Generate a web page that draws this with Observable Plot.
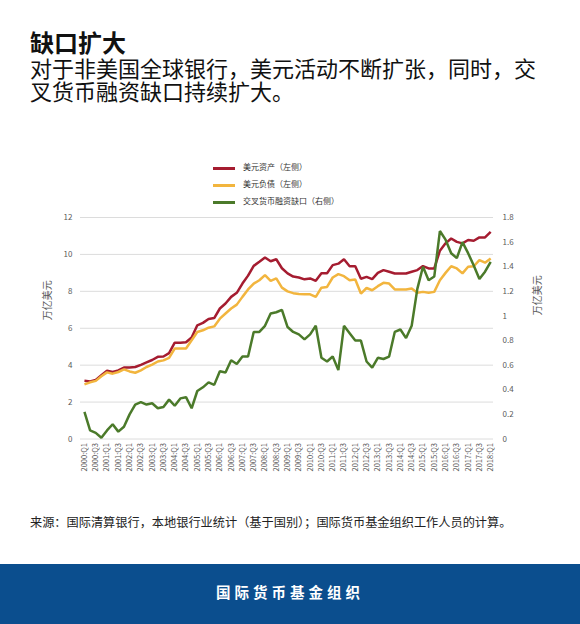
<!DOCTYPE html>
<html><head><meta charset="utf-8">
<script src="https://cdn.jsdelivr.net/npm/d3@7"></script>
<script src="https://cdn.jsdelivr.net/npm/@observablehq/plot@0.6"></script>
<style>
body{margin:0;width:580px;height:624px;position:relative;font-family:"Noto Sans CJK SC","Noto Sans",sans-serif;background:#fff;overflow:hidden;color:#111}
#title{position:absolute;left:30px;top:29px;font-size:24px;font-weight:700;line-height:26px;white-space:nowrap}
#sub{position:absolute;left:30px;top:56px;font-size:22px;line-height:23px;white-space:nowrap}
#legend{position:absolute;left:213px;top:160px;font-size:8px;color:#333}
.row{position:relative;height:17px}
.sw{position:absolute;left:0;top:7px;width:22px;height:2.5px}
.lt{position:absolute;left:30px;top:1px;line-height:12px;white-space:nowrap}
#chart{position:absolute;left:0;top:200px}
#source{position:absolute;left:30px;top:513px;font-size:12.2px;line-height:18px;color:#222;white-space:nowrap}
#footer{position:absolute;left:0;top:564px;width:580px;height:60px;background:#0b4e8e;color:#fff;font-weight:700;font-size:14.5px;letter-spacing:4px;text-align:center;line-height:56px}
</style>
</head><body>
<div id="title">缺口扩大</div>
<div id="sub">对于非美国全球银行，美元活动不断扩张，同时，交<br>叉货币融资缺口持续扩大。</div>
<div id="legend"></div>
<div id="chart"></div>
<div id="source">来源：国际清算银行，本地银行业统计（基于国别）；国际货币基金组织工作人员的计算。</div>
<div id="footer">国际货币基金组织</div>
<script>
// Quarters 2000Q1 .. 2018Q1
const years = d3.range(2000, 2019);
const quarters = [];
for (const y of years) for (const q of [1,2,3,4]) if (!(y === 2018 && q > 1)) quarters.push(`${y}:Q${q}`);

const seriesNames = ["美元资产（左侧）", "美元负债（左侧）", "交叉货币融资缺口（右侧）"];
const seriesColors = ["#a51c30", "#f2b53e", "#4b7a2a"];

// 美元资产 (万亿美元, left axis)
const assets = [3.15,3.12,3.2,3.45,3.7,3.63,3.72,3.87,3.88,3.9,4.02,4.15,4.28,4.45,4.47,4.65,5.22,5.22,5.24,5.5,
  6.16,6.29,6.5,6.55,7.07,7.34,7.7,7.92,8.42,8.85,9.38,9.6,9.83,9.63,9.74,9.25,8.97,8.8,8.75,8.65,
  8.7,8.57,8.98,8.98,9.42,9.5,9.74,9.36,9.36,8.68,8.78,8.66,9.0,9.15,9.06,8.97,8.97,8.97,9.06,9.15,
  9.37,9.24,9.24,10.2,10.6,10.86,10.68,10.6,10.78,10.74,10.92,10.92,11.22];
// 美元负债 (left axis)
const liabilities = [2.96,3.07,3.15,3.4,3.61,3.54,3.63,3.77,3.66,3.59,3.72,3.9,4.03,4.2,4.26,4.4,4.9,4.9,4.9,5.35,
  5.8,5.89,6.03,6.1,6.52,6.8,7.07,7.28,7.7,8.1,8.42,8.6,8.88,8.57,8.7,8.2,8.0,7.9,7.86,7.84,
  7.84,7.7,8.2,8.24,8.75,8.93,8.82,8.6,8.64,7.88,8.18,8.06,8.28,8.46,8.42,8.1,8.1,8.1,8.15,7.92,
  7.97,7.92,7.97,8.6,9.0,9.36,9.24,8.97,9.33,9.36,9.69,9.55,9.78];
// 交叉货币融资缺口 (right axis)
const gap = [0.22,0.07,0.05,0.01,0.07,0.12,0.06,0.1,0.2,0.28,0.3,0.28,0.29,0.25,0.26,0.32,0.27,0.33,0.34,0.25,
  0.39,0.42,0.46,0.44,0.55,0.54,0.64,0.61,0.67,0.67,0.87,0.87,0.92,1.02,1.03,1.05,0.91,0.87,0.85,0.81,
  0.85,0.92,0.66,0.63,0.67,0.56,0.92,0.86,0.8,0.8,0.63,0.58,0.66,0.65,0.67,0.87,0.89,0.82,0.92,1.22,
  1.4,1.29,1.32,1.69,1.62,1.51,1.47,1.6,1.51,1.41,1.3,1.36,1.44];

const leftTicks = [0,2,4,6,8,10,12];
const rightTicks = [0,0.2,0.4,0.6,0.8,1,1.2,1.4,1.6,1.8];
const axisTitle = "万亿美元";
const ratio = 12 / 1.8;

const legend = document.getElementById("legend");
seriesNames.forEach((n, k) => {
  const r = document.createElement("div"); r.className = "row";
  r.innerHTML = `<div class="sw" style="background:${seriesColors[k]}"></div><div class="lt">${n}</div>`;
  legend.appendChild(r);
});

const idx = quarters.map((q, i) => i);
const rows = [];
idx.forEach(i => {
  rows.push({i, v: assets[i], s: seriesNames[0]});
  rows.push({i, v: liabilities[i], s: seriesNames[1]});
  rows.push({i, v: gap[i] * ratio, s: seriesNames[2]});
});

const grey = "#595959";
const chart = Plot.plot({
  width: 580, height: 290,
  marginLeft: 80, marginRight: 87, marginTop: 17, marginBottom: 51.5,
  style: {fontFamily: '"Noto Sans CJK SC","Noto Sans",sans-serif', background: "transparent"},
  x: {type: "linear", domain: [-0.7, 72.5]},
  y: {domain: [0, 12]},
  color: {domain: seriesNames, range: seriesColors},
  marks: [
    Plot.gridY(leftTicks, {stroke: "#dcdcdc", strokeOpacity: 1, strokeWidth: 1}),
    Plot.axisX(d3.range(0, quarters.length, 2), {tickFormat: i => quarters[i], tickRotate: -90, tickSize: 0, tickPadding: 4, fontSize: 7.5, fill: grey, label: null}),
    Plot.axisY(leftTicks, {anchor: "left", tickSize: 0, tickPadding: 8, fontSize: 8, fill: grey, label: null}),
    Plot.axisY(rightTicks.map(t => t * ratio), {anchor: "right", tickFormat: d => String(+(d / ratio).toFixed(1)), tickSize: 0, tickPadding: 9, fontSize: 8, fill: grey, label: null}),
    Plot.text([axisTitle], {frameAnchor: "left", textAnchor: "middle", rotate: -90, dx: -33, dy: -28, fontSize: 10, fill: grey}),
    Plot.text([axisTitle], {frameAnchor: "right", textAnchor: "middle", rotate: -90, dx: 44, dy: -33, fontSize: 10, fill: grey}),
    Plot.line(rows, {x: "i", y: "v", z: "s", stroke: "s", strokeWidth: 2.5, strokeLinejoin: "miter", strokeLinecap: "butt"})
  ]
});
document.getElementById("chart").appendChild(chart);
</script>
</body></html>
